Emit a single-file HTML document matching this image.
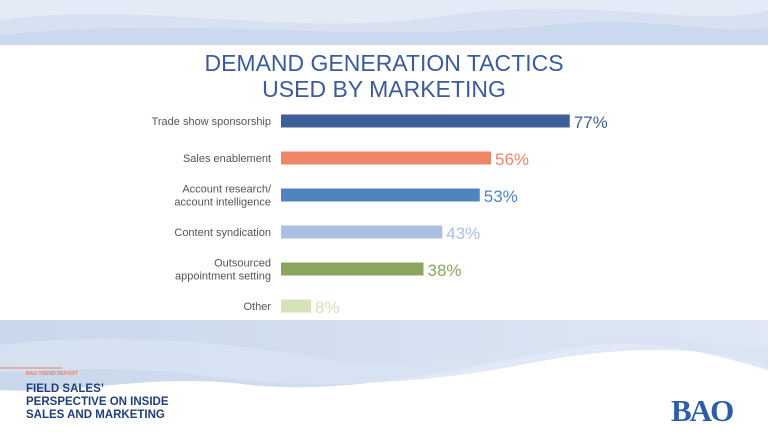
<!DOCTYPE html>
<html><head><meta charset="utf-8"><style>
body{margin:0;width:768px;height:432px;overflow:hidden;background:#fff;font-family:"Liberation Sans",sans-serif;position:relative}
svg{position:absolute;left:0;top:0}
</style></head><body>
<svg width="768" height="432">
<defs>
<linearGradient id="g1" x1="0" x2="1"><stop offset="0" stop-color="#c9d7ec"/><stop offset="1" stop-color="#dfe8f4"/></linearGradient>
</defs>
<g>
<rect x="0" y="0" width="768" height="46" fill="#e4ebf6"/>
<path d="M0,20 C150,0 300,40 450,15 C600,-5 700,30 768,10 L768,46 L0,46Z" fill="#d3def0" opacity="0.8"/>
<path d="M0,35 C200,15 350,45 550,25 C650,15 720,35 768,28 L768,46 L0,46Z" fill="#c6d5ec" opacity="0.7"/>
</g>
<rect x="0" y="45" width="768" height="275" fill="#fff"/>
<g>
<path d="M0,320 L768,320 L768,370 C700,350 640,335 560,350 C450,370 350,395 250,385 C150,372 80,395 0,390Z" fill="url(#g1)"/>
<path d="M0,345 C120,330 250,345 330,360 C420,375 500,345 620,340 C700,338 740,350 768,345 L768,365 C700,345 620,345 520,365 C420,385 300,390 200,375 C120,365 60,370 0,372Z" fill="#d8e3f2" opacity="0.8"/>
</g>
<line x1="0" y1="368" x2="62" y2="368" stroke="#e8826a" stroke-width="1"/>
<text x="26" y="375" font-size="5" fill="#e8826a" font-weight="bold">BAO TREND REPORT</text>
<g font-size="11.5" font-weight="bold" fill="#1f3f7a">
<text x="26" y="392">FIELD SALES’</text>
<text x="26" y="405">PERSPECTIVE ON INSIDE</text>
<text x="26" y="418">SALES AND MARKETING</text>
</g>
<text x="671" y="421" font-family="Liberation Serif" font-weight="bold" font-size="31" fill="#2b5ea7" letter-spacing="-2">BAO</text>
<g font-size="23" fill="#3a5c9c" text-anchor="middle">
<text x="384" y="71">DEMAND GENERATION TACTICS</text>
<text x="384" y="97">USED BY MARKETING</text>
</g>
<g id="chart"></g>
</svg>
<script>
const categories=[["Trade show sponsorship"],["Sales enablement"],["Account research/","account intelligence"],["Content syndication"],["Outsourced","appointment setting"],["Other"]];
const values=[77,56,53,43,38,8];
const colors=["#3f5f99","#ef8667","#4f84bd","#a9c0e0","#8aa55c","#d4e2b8"];
const x0=281, scale=3.75, y0=121, step=37, bh=13;
const xPos=v=>x0+v*scale;
const yPos=i=>y0+i*step;
const g=document.getElementById('chart');
const NS="http://www.w3.org/2000/svg";
values.forEach((v,i)=>{
  const r=document.createElementNS(NS,'rect');
  r.setAttribute('x',x0);r.setAttribute('y',yPos(i)-bh/2);
  r.setAttribute('width',xPos(v)-x0);r.setAttribute('height',bh);
  r.setAttribute('fill',colors[i]);
  
  
  g.appendChild(r);
  const t=document.createElementNS(NS,'text');
  t.setAttribute('x',xPos(v)+4);t.setAttribute('y',yPos(i)+7);
  t.setAttribute('font-size','17');t.setAttribute('fill',colors[i]);
  t.textContent=v+'%';
  
  
  g.appendChild(t);
  const lines=categories[i];
  lines.forEach((s,j)=>{
    const l=document.createElementNS(NS,'text');
    l.setAttribute('x',271);
    l.setAttribute('y',yPos(i)+4+(j-(lines.length-1)/2)*13);
    l.setAttribute('font-size','11');l.setAttribute('fill','#555');
    l.setAttribute('text-anchor','end');
    l.textContent=s;
    
    
    g.appendChild(l);
  });
});
</script>
</body></html>
